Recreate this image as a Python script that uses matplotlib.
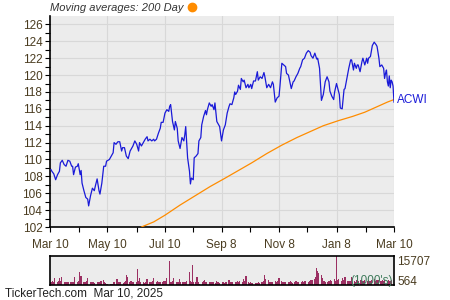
import numpy as np
import pandas as pd
import matplotlib
matplotlib.use('Agg')
import matplotlib.pyplot as plt

plt.rcParams['font.family'] = ['Liberation Sans', 'DejaVu Sans']

# ---- data ----
start = pd.Timestamp('2024-03-10')
end = pd.Timestamp('2025-03-10')

# ACWI closing prices: day offset from start, value
price_days = [1, 2, 4, 6, 8, 10, 11, 13, 15, 17, 19, 21, 23, 24, 25, 27, 29, 30, 32, 33,
              34, 36, 38, 40, 41, 43, 45, 47, 48, 50, 52, 53, 55, 57, 59, 60, 63, 65, 67, 68,
              70, 72, 74, 76, 77, 79, 81, 83, 85, 86, 88, 90, 92,
              94, 95, 97, 99, 101, 103, 104, 106, 108, 110, 111, 113, 115, 117, 118, 120, 122, 124, 126, 127,
              128, 130, 132, 133, 135, 136, 138, 140, 142, 143, 144, 146, 148, 149, 150, 152, 153, 155, 157, 158,
              160, 161, 163, 165, 166, 167, 169, 171, 172, 174, 175, 177, 179, 180, 182, 184,
              186, 188, 190, 191, 193, 195, 196, 197, 199, 200, 202, 203, 205, 206, 208, 210, 211, 213, 214, 216,
              218, 220, 221, 223, 225, 227, 228, 230, 232, 234, 236, 237, 239, 241, 243, 244, 246, 248, 250, 251,
              253, 255, 256, 258, 259, 261, 263, 265, 266, 268, 270, 272, 274, 276, 277,
              279, 281, 283, 284, 286, 287, 288, 290, 292, 294, 296, 297, 299, 301, 302, 304, 306, 307, 308, 310,
              312, 313, 315, 317, 319, 320, 322, 323, 325, 326, 327, 329, 331, 332, 334, 336, 337, 338, 340, 342,
              344, 346, 347, 349, 350, 352, 354, 355, 356, 357, 358, 359, 360, 361, 362, 363, 364, 365]
price_vals = [108.8, 108.6, 108.3, 107.6, 108.2, 108.6, 109.6, 109.9, 109.4, 109.2,
              109.9, 109.8, 109.2, 109.2, 108.2, 109.1, 109.2, 109.5, 108.2, 108.7,
              107.2, 106.3, 105.5, 105.3, 104.5, 105.7, 106.6, 106.3, 106.8, 107.7,
              106.3, 105.9, 107.2, 109.2, 109.2, 109.8, 110.0, 110.4, 110.8, 112.0,
              111.8, 112.1, 112.1, 111.0, 111.4, 111.4, 110.4, 110.1, 111.0, 111.2,
              111.6, 112.2, 111.8,
              111.0, 112.0, 111.6, 112.0, 112.4, 112.7, 112.2, 112.4, 112.2, 112.4,
              112.2, 112.4, 113.1, 113.7, 114.4, 114.4, 115.5, 115.9, 115.7, 116.3,
              116.5, 114.5, 113.5, 114.5, 113.7, 112.2, 111.3, 112.6, 112.2, 112.9,
              113.9, 110.2, 108.6, 107.1, 107.8, 107.6, 110.2, 110.4, 110.7, 112.2,
              112.6, 114.1, 115.1, 115.8, 115.3, 115.9, 116.7, 116.3, 116.5, 115.9,
              116.7, 114.5, 114.1, 113.9, 112.2, 113.5,
              114.1, 115.5, 116.3, 116.6, 116.5, 117.3, 118.0, 117.7, 118.1, 118.8,
              118.3, 119.6, 119.2, 119.4, 118.5, 118.9, 118.5, 118.9, 118.4, 119.3,
              119.3, 120.4, 119.4, 119.8, 119.6, 120.3, 119.8, 118.5, 118.9, 118.5,
              119.2, 118.9, 116.8, 117.3, 117.5, 118.7, 121.4, 121.2, 121.0, 120.2,
              120.0, 118.9, 118.4, 119.2, 119.3, 119.8, 120.2, 120.8, 121.0, 121.8,
              122.0, 122.6, 122.9, 122.7, 122.3,
              122.0, 122.6, 121.9, 122.0, 120.8, 118.9, 117.0, 117.7, 119.2, 119.8,
              119.2, 118.1, 117.5, 117.1, 118.0, 119.0, 118.1, 117.7, 116.1, 116.0,
              118.3, 118.4, 119.6, 120.8, 121.8, 121.8, 120.6, 121.4, 120.8, 121.2,
              121.2, 120.4, 121.6, 122.0, 121.2, 122.0, 121.4, 122.0, 122.2, 123.5,
              123.9, 123.6, 123.4, 122.0, 121.0, 121.2, 120.8, 119.6, 120.2, 120.6,
              119.2, 118.7, 119.9, 118.5, 119.4, 119.2, 118.7, 116.8]

# 200 day moving average
ma_days = [97, 110, 122, 138, 154, 170, 186, 200, 214, 230, 246, 262, 278, 290, 306, 321, 334, 348, 358, 365]
ma_vals = [102.0, 102.6, 103.4, 104.6, 105.7, 106.8, 107.8, 108.7, 109.6, 110.7,
           111.7, 112.6, 113.4, 114.0, 114.6, 115.1, 115.6, 116.3, 116.8, 117.1]

# daily volume (1000's), one per business day
volume = [1800, 1500, 2200, 1600, 3700, 1400, 1900, 3900, 2000, 4200, 1700, 1300, 1500, 1200, 1400, 1600, 1800, 1500, 1700, 4600,
          1600, 1900, 7000, 1500, 4800, 1800, 1400, 1600, 1900, 3700, 1700, 1500, 1400, 1600, 1300, 1500, 1700, 1400, 1600, 2000,
          2900, 1500, 1200, 700, 600, 650, 800, 600, 900, 1800, 3300, 1600, 1400, 1700, 1500, 1300, 1800, 2400, 5500, 4400,
          1600, 1900, 1500, 1700, 1800, 1400, 8800, 2000, 3700, 1600, 1500, 1200, 1400, 1700, 3300, 1500, 1800, 1600, 1900, 3700,
          1700, 2000, 1500, 1800, 1600, 1400, 2100, 1900, 1700, 3700, 13100, 1800, 1500, 2000, 3700, 1600, 1400, 1500, 3300, 1800,
          1500, 1400, 1600, 1700, 2200, 7000, 2000, 1600, 11000, 1800, 1400, 4200, 1500, 700, 800, 1600, 1900, 2600, 1700, 1500,
          1800, 1600, 1400, 1700, 1500, 1300, 1900, 1600, 1400, 1200, 1500, 1700, 1300, 1600, 1800, 2900, 1500, 1400, 1700, 1600,
          1800, 1500, 1900, 1700, 2100, 1600, 3300, 1800, 2200, 4800, 1500, 1200, 1400, 1100, 900, 1000, 1300, 1200, 1500, 1100,
          1400, 1700, 2000, 5500, 3300, 2600, 1800, 1500, 1700, 1600, 1900, 1400, 2000, 1800, 3700, 2100, 1600, 1500, 1800, 1400,
          1700, 1500, 1900, 1600, 1300, 1800, 2000, 1500, 1700, 1400, 1800, 2200, 1600, 1900, 2300, 1700, 2400, 2000, 2600, 2900,
          3400, 4100, 9200, 7500, 6600, 5200, 3700, 2400, 2000, 1800, 1600, 2200, 1900, 2500, 2100, 3000, 2400, 15707, 2600, 3300,
          2200, 3700, 2500, 2300, 4200, 2100, 1900, 2400, 2000, 4500, 2200, 1800, 2600, 2300, 2000, 2800, 2400, 2100, 1900, 2500,
          2300, 2700, 2000, 2200, 2600, 3000, 2400, 2100, 2800, 2500, 2300, 2000, 2700, 2400, 2900, 2200, 2600, 2300, 2100, 2500,
          564]
vol_max = 15707
vol_last = 564

major_ticks = ['2024-03-10', '2024-05-10', '2024-07-10', '2024-09-08', '2024-11-08', '2025-01-08', '2025-03-10']
major_labels = ['Mar 10', 'May 10', 'Jul 10', 'Sep 8', 'Nov 8', 'Jan 8', 'Mar 10']
minor_ticks = ['2024-04-10', '2024-06-10', '2024-08-09', '2024-10-08', '2024-12-08', '2025-02-08']

# ---- styling ----
text_col = '#4a3c20'
bg = '#ececec'
grid_col = '#d8d8d8'

price_dates = start + pd.to_timedelta(price_days, unit='D')
ma_dates = start + pd.to_timedelta(ma_days, unit='D')
vol_dates = pd.bdate_range('2024-03-11', '2025-03-10')

fig = plt.figure(figsize=(4.5, 3), dpi=100)

# main price panel
ax = fig.add_axes([50 / 450, 1 - 227 / 300, 344 / 450, 211 / 300])
ax.set_facecolor(bg)
ax.plot(ma_dates, ma_vals, color='#ff8c00', lw=0.9, zorder=3)
ax.plot(price_dates, price_vals, color='#1a1ad8', lw=0.9, zorder=4)

ax.set_xlim(start, end)
ax.set_ylim(102, 127)
ax.set_yticks(np.arange(102, 127, 2))
ax.set_yticks(np.arange(103, 127, 2), minor=True)
ax.set_xticks(pd.to_datetime(major_ticks))
ax.set_xticklabels(major_labels)
ax.set_xticks(pd.to_datetime(minor_ticks), minor=True)

ax.grid(True, which='major', color=grid_col, lw=0.8)
ax.set_axisbelow(True)
for s in ['top', 'right']:
    ax.spines[s].set_visible(False)
for s in ['left', 'bottom']:
    ax.spines[s].set_linewidth(1.2)
    ax.spines[s].set_color('black')

ax.tick_params(axis='both', which='both', length=3.5, width=0.8, color='black',
               labelsize=8.5, labelcolor=text_col)
ax.tick_params(axis='y', which='major', pad=2)
ax.tick_params(axis='x', which='major', pad=5)

ax.text(1.008, (117.0 - 102) / 25, 'ACWI', transform=ax.transAxes, color='#1a1ad8',
        fontsize=8.5, ha='left', va='center')

# header
fig.text(50 / 450, 1 - 8 / 300, 'Moving averages: 200 Day', fontsize=8, style='italic',
         color='#333333', ha='left', va='center')
fig.lines.append(plt.Line2D([191.5 / 450], [1 - 7 / 300], marker='o', markersize=6,
                            color='#ff8c00', transform=fig.transFigure))

# volume panel
axv = fig.add_axes([50 / 450, 1 - 285 / 300, 344 / 450, 29 / 300])
axv.set_facecolor(bg)
axv.bar(vol_dates, volume, width=1.3, color='#9b2f62', linewidth=0)
axv.set_xlim(start, end)
axv.set_ylim(0, vol_max)
axv.set_xticks([])
axv.set_yticks([])
for s in axv.spines.values():
    s.set_linewidth(1.2)
    s.set_color('black')

axv.text(1.01, 0.8, str(vol_max), transform=axv.transAxes, fontsize=8.5, color=text_col,
         ha='left', va='center')
axv.text(1.01, 0.12, str(vol_last), transform=axv.transAxes, fontsize=8.5, color=text_col,
         ha='left', va='center')
axv.text(0.995, 0.15, "(1000's)", transform=axv.transAxes, fontsize=8.5, color='#3d7a5a',
         ha='right', va='center')

fig.text(5 / 450, 1 - 294 / 300, 'TickerTech.com  Mar 10, 2025', fontsize=8.5,
         color='#222222', ha='left', va='center')

fig.savefig('out.png', dpi=100)
